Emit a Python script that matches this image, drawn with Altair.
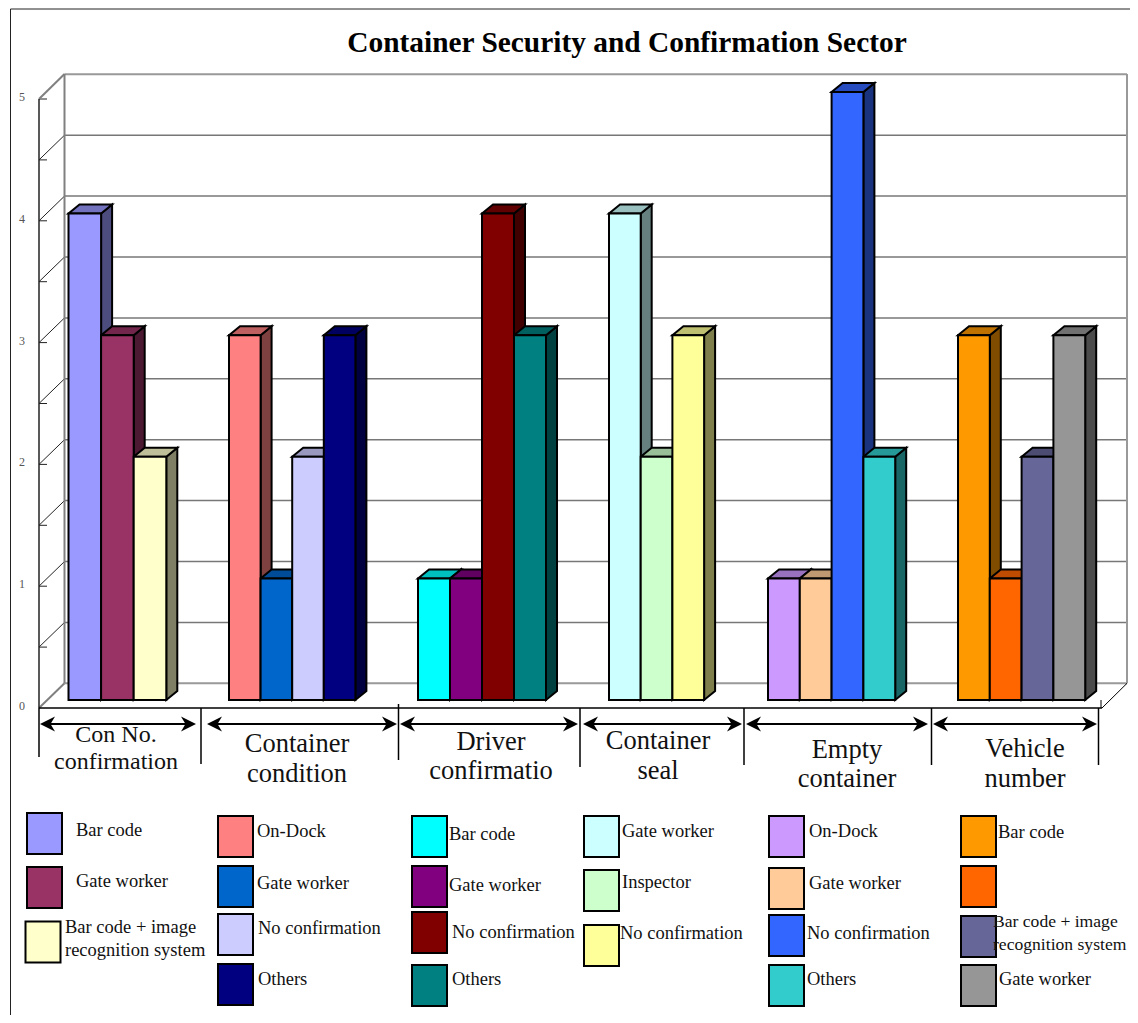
import altair as alt
import pandas as pd

TITLE = "Container Security and Confirmation Sector"

# ---- chart values
GROUP_NAMES = [["Con No.", "confirmation"], ["Container", "condition"], ["Driver", "confirmatio"],
               ["Container", "seal"], ["Empty", "container"], ["Vehicle", "number"]]
SERIES_1 = ["Bar code", "Gate worker", ["Bar code + image", "recognition system"]]
SERIES_2 = ["On-Dock", "Gate worker", "No confirmation", "Others"]
SERIES_3 = ["Bar code", "Gate worker", "No confirmation", "Others"]
SERIES_4 = ["Gate worker", "Inspector", "No confirmation"]
SERIES_5 = ["On-Dock", "Gate worker", "No confirmation", "Others"]
SERIES_6 = ["Bar code", "", ["Bar code + image", "recognition system"], "Gate worker"]
VALUES_1 = [4, 3, 2]
VALUES_2 = [3, 1, 2, 3]
VALUES_3 = [1, 1, 4, 3]
VALUES_4 = [4, 2, 3]
VALUES_5 = [1, 1, 5, 2]
VALUES_6 = [3, 1, 2, 3]
COLORS_1 = ["#9999FF", "#993366", "#FFFFCC"]
COLORS_2 = ["#FF8080", "#0066CC", "#CCCCFF", "#000080"]
COLORS_3 = ["#00FFFF", "#800080", "#800000", "#008080"]
COLORS_4 = ["#CCFFFF", "#CCFFCC", "#FFFF99"]
COLORS_5 = ["#CC99FF", "#FFCC99", "#3366FF", "#33CCCC"]
COLORS_6 = ["#FF9900", "#FF6600", "#666699", "#969696"]

ALL_SERIES = [SERIES_1, SERIES_2, SERIES_3, SERIES_4, SERIES_5, SERIES_6]
ALL_VALUES = [VALUES_1, VALUES_2, VALUES_3, VALUES_4, VALUES_5, VALUES_6]
ALL_COLORS = [COLORS_1, COLORS_2, COLORS_3, COLORS_4, COLORS_5, COLORS_6]

# ---- layout (page pixels of the picture)
W, H = 1122, 1007
UNIT = 121.6
GRID_STEP = 60.9
BASE = 700.0
DX, DY = 11.0, 9.0
BAR_W = [32.6, 31.6, 32, 31.7, 31.8, 31.8]
GROUP_LEFT = [68.5, 229, 418, 609, 768, 958]
SEPS = [(39, 708, 757), (201, 708, 764), (398.5, 704, 760), (580, 708, 767),
        (744, 708, 765), (931.5, 708, 765), (1098.5, 708, 765)]
ARROWS = [(40, 196), (207, 397), (400, 578), (583, 742), (746, 928), (933, 1097)]
NAME_POS = [(116, 742, 769, 24), (297, 752, 782, 26.5), (491, 750, 779, 26.5),
            (658, 749, 779, 26.5), (847, 758, 787, 26.5), (1025, 757, 787, 26.5)]
SWATCH_X = [27, 218, 412, 584, 769, 961]
SWATCH_Y = [[813, 867, 921.5], [816, 866, 914, 964], [816, 866, 912, 965],
            [816, 870, 925], [816, 868, 915, 965], [816, 866, 916, 965]]
LABEL_POS = [[(76, 836), (76, 887), (65, 933)],
             [(257, 837), (257, 889), (258, 934), (258, 985)],
             [(449, 840), (449, 891), (452, 938), (452, 985)],
             [(622, 837), (622, 888), (620, 939)],
             [(809, 837), (809, 889), (807, 939), (807, 985)],
             [(998, 838), (998, 889), (993, 927), (999, 985)]]
LINE_GAP = 22.5


def val(py):
    return (BASE - py) / UNIT


def shade(hex_color, k):
    r, g, b = [int(hex_color[i:i + 2], 16) for i in (1, 3, 5)]
    return "#%02x%02x%02x" % (int(r * k), int(g * k), int(b * k))


xs = alt.Scale(domain=[8, 8 + W])
ys = alt.Scale(domain=[val(8 + H), val(8)], nice=False, zero=False)
X = lambda f: alt.X(f, type="quantitative", scale=xs, axis=None)
Y = lambda f: alt.Y(f, type="quantitative", scale=ys, axis=None)
NOCOLOR = alt.Color("c:N", scale=None)

# ---- bars
front, side, top = [], [], []
d = DY / UNIT
bar_id = 0
for g, left in enumerate(GROUP_LEFT):
    for k, (v, c) in enumerate(zip(ALL_VALUES[g], ALL_COLORS[g])):
        x0 = left + k * BAR_W[g]
        x1 = x0 + BAR_W[g]
        front.append(dict(x=x0, x2=x1, y=v, y2=0, c=c))
        s = shade(c, 0.5)
        side.append(dict(id=bar_id, x=x1, y=v, y2=0, c=s))
        side.append(dict(id=bar_id, x=x1 + DX, y=v + d, y2=d, c=s))
        t = shade(c, 0.75)
        top.append(dict(id=bar_id, x=x0, x2=x1, y=v, c=t))
        top.append(dict(id=bar_id, x=x0 + DX, x2=x1 + DX, y=v + d, c=t))
        bar_id += 1

side_layer = alt.Chart(pd.DataFrame(side)).mark_area(
    orient="vertical", stroke="black", strokeWidth=2, strokeJoin="miter", opacity=1
).encode(x=X("x"), y=Y("y"), y2="y2:Q", color=NOCOLOR, detail="id:N")
top_layer = alt.Chart(pd.DataFrame(top)).mark_area(
    orient="horizontal", stroke="black", strokeWidth=2, strokeJoin="miter", opacity=1
).encode(x=X("x"), x2="x2:Q", y=Y("y"), color=NOCOLOR, detail="id:N")
front_layer = alt.Chart(pd.DataFrame(front)).mark_rect(stroke="black", strokeWidth=2).encode(
    x=X("x"), x2="x2:Q", y=Y("y"), y2="y2:Q", color=NOCOLOR)

# ---- walls, floor and separators
seg = []


def add(x, px, x2, px2, c, w):
    seg.append(dict(x=x, x2=x2, y=val(px), y2=val(px2), c=c, w=w))


GRAY = "#808080"
for i in range(11):
    py_back = 683.3 - i * GRID_STEP
    py_front = 708 - i * GRID_STEP
    add(64.5, py_back, 1127, py_back, "#777777" if 0 < i < 10 else "#999999", 1.5 if 0 < i < 10 else 2)
    if 0 < i < 10:
        add(39, py_front, 64.5, py_back, "#222222", 1)
    if i > 0:
        add(39, py_front, 47, py_front, "#222222", 1)
add(39, 99, 64.5, 74, GRAY, 2)
add(39, 708, 64.5, 683.3, GRAY, 2)
add(64.5, 74, 64.5, 683.3, GRAY, 2)
add(1127, 74, 1127, 683.3, "#999999", 2)
add(1102, 708, 1127, 683.3, "#000000", 1)
add(1101, 700, 1101, 708, "#000000", 1)
add(39, 99, 39, 708, "#222222", 1.5)
add(39, 708, 1102, 708, "#000000", 1.5)
add(10.5, 9, 10.5, 8 + H, "#222222", 1)
add(10.5, 9, 8 + W, 9, "#222222", 1)
for x, a, b in SEPS:
    add(x, a, x, b, "#000000", 1.5)
for a, b in ARROWS:
    add(a + 4, 724, b - 4, 724, "#000000", 2)

seg_layer = alt.Chart(pd.DataFrame(seg)).mark_rule().encode(
    x=X("x"), x2="x2:Q", y=Y("y"), y2="y2:Q", color=NOCOLOR,
    strokeWidth=alt.StrokeWidth("w:Q", scale=None))

HEAD = 15.0
left_heads = alt.Chart(pd.DataFrame([dict(x=a + HEAD / 2, y=val(724)) for a, b in ARROWS])).mark_point(
    shape="M-1,0L1,-1L0.4,0L1,1Z", filled=True, color="black", size=HEAD * HEAD, opacity=1
).encode(x=X("x"), y=Y("y"))
right_heads = alt.Chart(pd.DataFrame([dict(x=b - HEAD / 2, y=val(724)) for a, b in ARROWS])).mark_point(
    shape="M1,0L-1,-1L-0.4,0L-1,1Z", filled=True, color="black", size=HEAD * HEAD, opacity=1
).encode(x=X("x"), y=Y("y"))

# ---- value labels
y_labels = pd.DataFrame([dict(x=22, y=val(708 - i * 121.8), t=str(i)) for i in range(6)])
ytext = alt.Chart(y_labels).mark_text(
    font="Liberation Serif", fontSize=12, color="#555555", align="center", baseline="alphabetic", dy=2
).encode(x=X("x"), y=Y("y"), text="t:N")

# ---- group names
names = []
for (cx, b1, b2, fs), lines in zip(NAME_POS, GROUP_NAMES):
    names.append(dict(x=cx, y=val(b1), t=lines[0], fs=fs))
    names.append(dict(x=cx, y=val(b2), t=lines[1], fs=fs))
name_text = alt.Chart(pd.DataFrame(names)).mark_text(
    font="Liberation Serif", color="#111111", align="center", baseline="alphabetic"
).encode(x=X("x"), y=Y("y"), text="t:N", size=alt.Size("fs:Q", scale=None))

# ---- hand-placed key
sw, lab = [], []
for g, (sx, rows) in enumerate(zip(SWATCH_X, SWATCH_Y)):
    for k, sy in enumerate(rows):
        x_off = -1.5 if (g == 0 and k == 2) else 0
        sw.append(dict(x=sx + x_off, x2=sx + x_off + 35, y=val(sy), y2=val(sy + 41), c=ALL_COLORS[g][k]))
        name = ALL_SERIES[g][k]
        lx, ly = LABEL_POS[g][k]
        parts = name if isinstance(name, list) else [name]
        fs = 17.6 if (g == 5 and k == 2) else 18.5
        for n, p in enumerate(parts):
            if p:
                lab.append(dict(x=lx, y=val(ly + n * LINE_GAP), t=p, fs=fs))
sw_layer = alt.Chart(pd.DataFrame(sw)).mark_rect(stroke="black", strokeWidth=2).encode(
    x=X("x"), x2="x2:Q", y=Y("y"), y2="y2:Q", color=NOCOLOR)
lab_layer = alt.Chart(pd.DataFrame(lab)).mark_text(
    font="Liberation Serif", color="#111111", align="left", baseline="alphabetic"
).encode(x=X("x"), y=Y("y"), text="t:N", size=alt.Size("fs:Q", scale=None))

title_layer = alt.Chart(pd.DataFrame([dict(x=627, y=val(52), t=TITLE)])).mark_text(
    font="Liberation Serif", fontWeight="bold", fontSize=29.4, color="black", align="center", baseline="alphabetic"
).encode(x=X("x"), y=Y("y"), text="t:N")

chart = alt.layer(
    seg_layer, side_layer, top_layer, front_layer, left_heads, right_heads,
    ytext, name_text, sw_layer, lab_layer, title_layer
).properties(
    width=W, height=H, padding=0, background="white",
    autosize=alt.AutoSizeParams(type="none")
).configure_view(stroke=None)

chart.save("out.html", embed_options={"renderer": "svg", "actions": False})
